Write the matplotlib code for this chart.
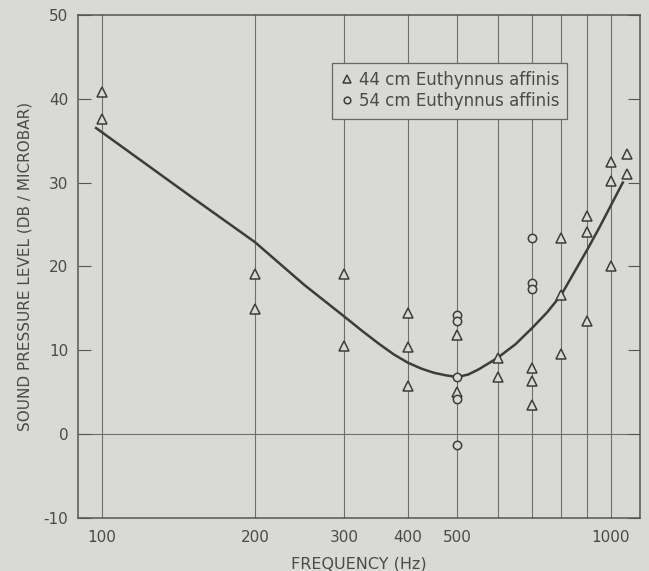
import numpy as np
import matplotlib
matplotlib.use("Agg")
import matplotlib.pyplot as plt

# data
freq_44 = [100, 100, 200, 200, 300, 300, 400, 400, 400, 500, 500, 600, 600,
           700, 700, 700, 800, 800, 800, 900, 900, 900, 1000, 1000, 1000, 1077, 1077]
spl_44 = [40.8, 37.6, 19.1, 14.9, 19.1, 10.5, 14.4, 10.4, 5.7, 11.8, 5.0, 9.1, 6.8,
          7.9, 6.3, 3.5, 23.4, 16.6, 9.5, 26.0, 24.1, 13.5, 32.5, 30.2, 20.0, 33.4, 31.0]

freq_54 = [500, 500, 500, 500, 500, 700, 700, 700]
spl_54 = [14.2, 13.5, 6.8, 4.2, -1.3, 23.4, 18.0, 17.3]

# fitted curve, read at a set of frequencies
curve_freq = [97.5, 150, 200, 250, 300, 325, 350, 375, 400, 425, 450, 475, 500,
              525, 550, 600, 650, 700, 750, 800, 900, 950, 1000, 1057]
curve_spl = [36.5, 28.3, 22.9, 17.8, 14.0, 12.3, 10.8, 9.5, 8.5, 7.8, 7.3, 7.0, 6.8,
             7.1, 7.7, 9.1, 10.7, 12.6, 14.5, 16.6, 22.0, 24.6, 27.2, 30.0]

grid_freqs = [100, 200, 300, 400, 500, 600, 700, 800, 900, 1000]
xtick_labels = {100: "100", 200: "200", 300: "300", 400: "400", 500: "500", 1000: "1000"}
yticks = [-10, 0, 10, 20, 30, 40, 50]
ytick_labels = ["-10", "0", "10", "20", "30", "40", "50"]

bg = "#d9d9d5"
ink = "#4a4a4a"

fig = plt.figure(figsize=(6.49, 5.71), dpi=100, facecolor=bg)
ax = fig.add_axes([0.120, 0.093, 0.866, 0.881], facecolor=bg)

for f in grid_freqs:
    ax.axvline(f, color="#6e6e6e", lw=0.8, zorder=1)
ax.axhline(0, color="#6e6e6e", lw=0.8, zorder=1)

ax.plot(curve_freq, curve_spl, color="#3c3c3c", lw=1.8, zorder=2)
ax.plot(freq_44, spl_44, ls="none", marker="^", ms=6.5, mfc=bg, mec="#3c3c3c",
        mew=1.1, label="44 cm Euthynnus affinis", zorder=3)
ax.plot(freq_54, spl_54, ls="none", marker="o", ms=6, mfc=bg, mec="#3c3c3c",
        mew=1.1, label="54 cm Euthynnus affinis", zorder=3)

ax.set_xscale("log")
ax.set_xlim(89.8, 1142)
ax.set_ylim(-10, 50)

ax.set_xticks(list(xtick_labels.keys()))
ax.set_xticklabels(list(xtick_labels.values()))
ax.xaxis.set_minor_locator(matplotlib.ticker.NullLocator())
ax.tick_params(axis="x", length=0, pad=9, labelsize=11, colors=ink)
ax.set_yticks(yticks)
ax.set_yticklabels(ytick_labels)
ax.tick_params(axis="y", direction="in", length=9, width=0.8, color="#555555",
               labelsize=11, labelcolor=ink, right=True, pad=7)

for s in ax.spines.values():
    s.set_color("#555555")
    s.set_linewidth(1.1)

ax.set_xlabel("FREQUENCY (Hz)", fontsize=11.5, color=ink, labelpad=8)
ax.set_ylabel("SOUND PRESSURE LEVEL (DB / MICROBAR)", fontsize=11, color=ink, labelpad=8)

leg = ax.legend(loc="upper left", bbox_to_anchor=(0.452, 0.905), fontsize=12,
                frameon=True, fancybox=False, handletextpad=0.3, handlelength=0.8,
                borderpad=0.5, labelspacing=0.2, markerscale=0.8, borderaxespad=0)
leg.get_frame().set_facecolor(bg)
leg.get_frame().set_edgecolor("#666666")
leg.get_frame().set_linewidth(0.9)
leg.get_frame().set_alpha(1)
for t in leg.get_texts():
    t.set_color(ink)

fig.savefig("out.png", dpi=100, facecolor=bg)
